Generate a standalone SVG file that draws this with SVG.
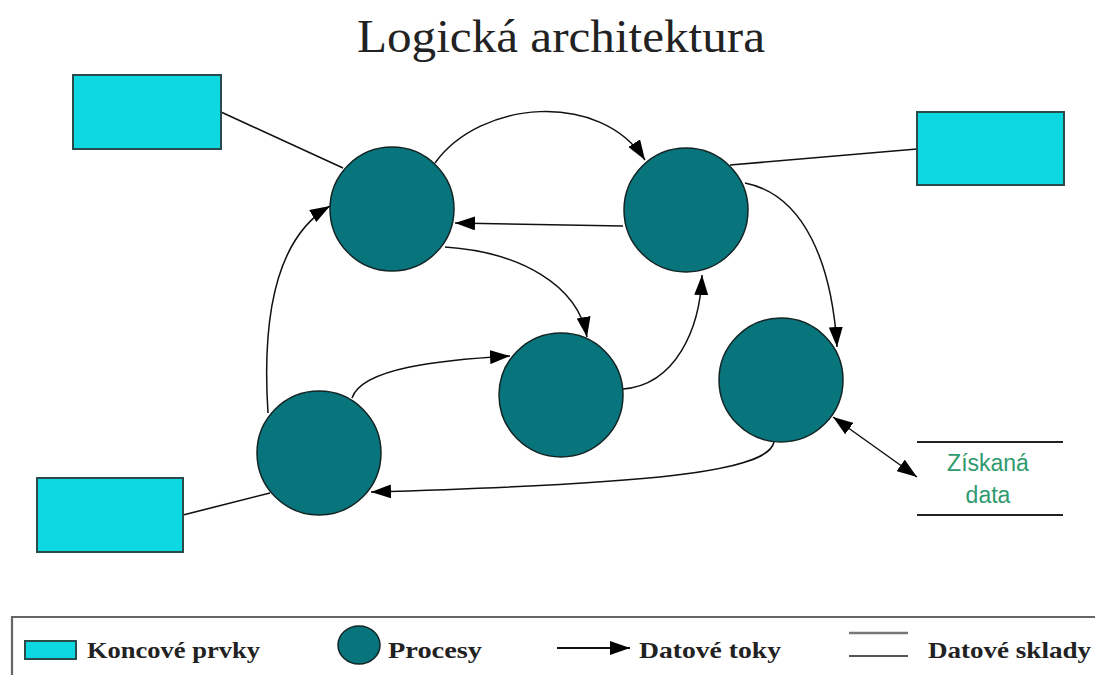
<svg xmlns="http://www.w3.org/2000/svg" width="1095" height="675" viewBox="0 0 1095 675">
  <style>
    .endpoint { fill: #0dd7e1; stroke: #2b4a4c; stroke-width: 2; }
    .process { fill: #08747c; stroke: #122424; stroke-width: 1.5; }
    .link { fill: none; stroke: #111; stroke-width: 1.6; }
    .flow { fill: none; stroke: #111; stroke-width: 1.5; marker-end: url(#arrow); }
    .store { stroke: #222; stroke-width: 1.8; }
    .title { font-family: "Liberation Serif", "DejaVu Serif", serif; font-size: 46px; fill: #222; }
    .storeText { font-family: "Liberation Sans", Arial, sans-serif; font-size: 23px; fill: #2e9a6e; text-anchor: middle; }
    .legendText { font-family: "Liberation Serif", "DejaVu Serif", serif; font-size: 24px; font-weight: bold; fill: #222; }
    .frame { fill: none; stroke: #666; stroke-width: 2.2; }
  </style>
  <defs>
    <marker id="arrow" viewBox="0 0 20 14" refX="20" refY="7" markerWidth="20" markerHeight="14" markerUnits="userSpaceOnUse" orient="auto-start-reverse">
      <path d="M0,0 L20,7 L0,14 Z" fill="#000"/>
    </marker>
  </defs>

  <rect width="1095" height="675" fill="#fff"/>

  <text class="title" x="561" y="52" text-anchor="middle" textLength="408" lengthAdjust="spacingAndGlyphs">Logická architektura</text>

  <!-- connectors -->
  <g id="connectors">
    <line class="link" x1="221" y1="112" x2="343" y2="168"/>
    <line class="link" x1="917" y1="149" x2="730" y2="165"/>
    <line class="link" x1="183" y1="515" x2="270" y2="493"/>
    <path class="flow" d="M435,163 C480,100 600,90 645,160"/>
    <path class="flow" d="M623,226 L455,223"/>
    <path class="flow" d="M445,247 C520,252 578,285 587,337"/>
    <path class="flow" d="M352,398 C362,368 440,360 510,356"/>
    <path class="flow" d="M623,389 C675,385 700,330 702,275"/>
    <path class="flow" d="M745,183 C805,195 832,265 837,347"/>
    <path class="flow" d="M268,413 C262,320 275,238 330,206"/>
    <path class="flow" d="M774,442 C768,472 650,484 371,492"/>
    <line class="flow" x1="833" y1="417" x2="917" y2="477" marker-start="url(#arrow)"/>
  </g>

  <!-- end elements -->
  <g id="endpoint-top-left"><rect class="endpoint" x="73" y="75" width="148" height="74"/></g>
  <g id="endpoint-top-right"><rect class="endpoint" x="917" y="112" width="147" height="73"/></g>
  <g id="endpoint-bottom-left"><rect class="endpoint" x="37" y="478" width="146" height="74"/></g>

  <!-- processes -->
  <g id="process-1"><circle class="process" cx="392" cy="209" r="62"/></g>
  <g id="process-2"><circle class="process" cx="686" cy="210" r="62"/></g>
  <g id="process-3"><circle class="process" cx="561" cy="395" r="62"/></g>
  <g id="process-4"><circle class="process" cx="781" cy="380" r="62"/></g>
  <g id="process-5"><circle class="process" cx="319" cy="453" r="62"/></g>

  <!-- data store -->
  <g id="store">
    <line class="store" x1="917" y1="442" x2="1063" y2="442"/>
    <line class="store" x1="917" y1="515" x2="1063" y2="515"/>
    <text class="storeText" x="988" y="471">Získaná</text>
    <text class="storeText" x="988" y="503">data</text>
  </g>

  <!-- legend -->
  <g id="legend">
    <path class="frame" d="M12,675 L12,617 L1095,617"/>
    <rect class="endpoint" x="25" y="641" width="51" height="18" stroke-width="1.5"/>
    <text class="legendText" x="87" y="658" textLength="173" lengthAdjust="spacingAndGlyphs">Koncové prvky</text>
    <ellipse class="process" cx="359" cy="645" rx="21" ry="19"/>
    <text class="legendText" x="388" y="658" textLength="94" lengthAdjust="spacingAndGlyphs">Procesy</text>
    <line x1="557" y1="648" x2="630" y2="648" stroke="#111" stroke-width="1.8" marker-end="url(#arrow)"/>
    <text class="legendText" x="639" y="658" textLength="142" lengthAdjust="spacingAndGlyphs">Datové toky</text>
    <line x1="849" y1="633" x2="908" y2="633" stroke="#777" stroke-width="2.5"/>
    <line x1="849" y1="656" x2="908" y2="656" stroke="#555" stroke-width="2"/>
    <text class="legendText" x="928" y="658" textLength="163" lengthAdjust="spacingAndGlyphs">Datové sklady</text>
  </g>
</svg>
